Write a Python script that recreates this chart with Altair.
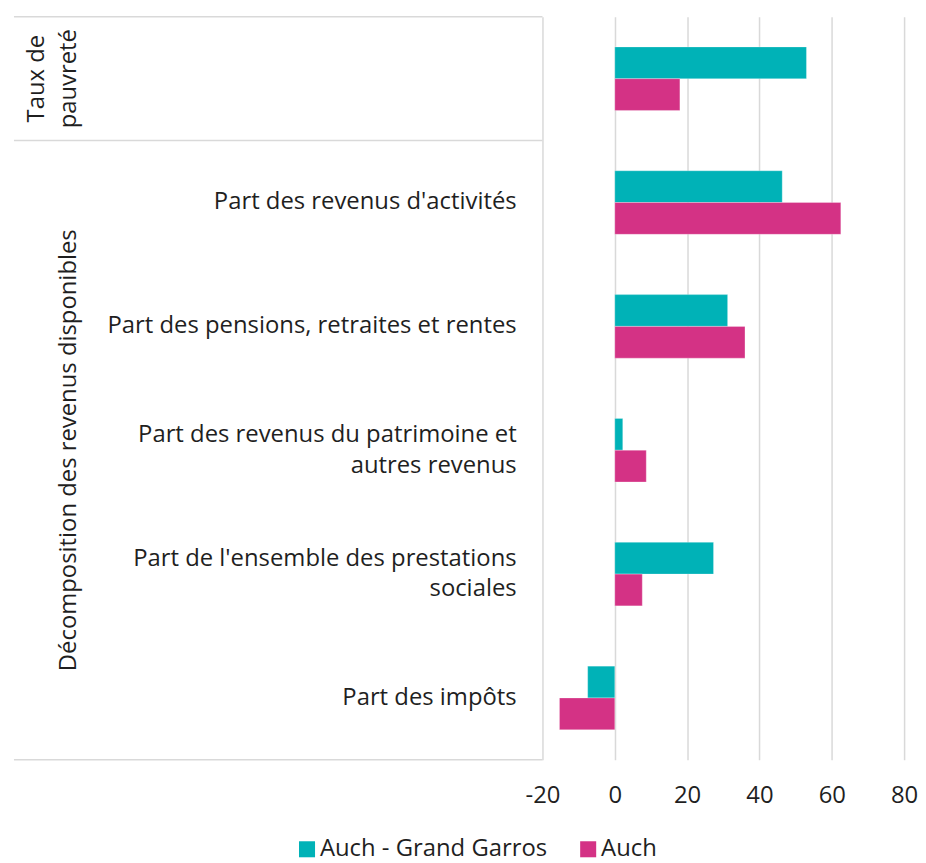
import altair as alt
import pandas as pd

# ---- data ----
categories = [
    "Taux de pauvreté",
    "Part des revenus d'activités",
    "Part des pensions, retraites et rentes",
    "Part des revenus du patrimoine et autres revenus",
    "Part de l'ensemble des prestations sociales",
    "Part des impôts",
]
row_labels = [
    [],
    ["Part des revenus d'activités"],
    ["Part des pensions, retraites et rentes"],
    ["Part des revenus du patrimoine et", "autres revenus"],
    ["Part de l'ensemble des prestations", "sociales"],
    ["Part des impôts"],
]
groups = [["Taux de", "pauvreté"], ["Décomposition des revenus disponibles"]]
group_sizes = [1, 5]
series = ["Auch - Grand Garros", "Auch"]
values_grand_garros = [53.0, 46.3, 31.2, 2.2, 27.3, -7.5]
values_auch = [18.0, 62.5, 36.0, 8.7, 7.6, -15.3]
colors = ["#00B2B7", "#D43285"]
x_ticks = [-20, 0, 20, 40, 60, 80]

FONT = "Open Sans"
TXT = "#1f1f1f"
GRID = "#d9d9d9"
H = 748
FS = 24
LH_INNER = 31
LH_GROUP = 32

# ---- tables ----
bars = pd.DataFrame(
    [{"category": c, "series": series[0], "value": v} for c, v in zip(categories, values_grand_garros)]
    + [{"category": c, "series": series[1], "value": v} for c, v in zip(categories, values_auch)]
)

n = len(categories)
inner_rows = [{"label": lab, "mid": i + 0.5} for i, lab in enumerate(row_labels) if lab]
inner_vals = alt.InlineData(values=inner_rows)

starts, s = [], 0
for g in group_sizes:
    starts.append(s)
    s += g
grp_vals = alt.InlineData(values=[
    {"name": nm, "mid": st + g / 2} for nm, st, g in zip(groups, starts, group_sizes)
])
bounds = pd.DataFrame({"b": starts + [n]})

yq = alt.Scale(domain=[0, n], reverse=True, nice=False, zero=False)


def inner_layer(k):
    return alt.Chart(inner_vals).transform_filter(
        f"length(datum.label) == {k}"
    ).mark_text(
        align="right", baseline="middle", font=FONT, fontSize=FS, color=TXT,
        lineHeight=LH_INNER, dy=-(k - 1) * LH_INNER / 2,
    ).encode(
        x=alt.value(506),
        y=alt.Y("mid:Q", scale=yq, axis=None),
        text="label:N",
    )


def group_layer(k):
    return alt.Chart(grp_vals).transform_filter(
        f"length(datum.name) == {k}"
    ).mark_text(
        align="center", baseline="bottom", angle=270, font=FONT, fontSize=FS,
        color=TXT, lineHeight=LH_GROUP, dy=-(k - 1) * LH_GROUP,
    ).encode(
        x=alt.value(67),
        y=alt.Y("mid:Q", scale=yq, axis=None),
        text="name:N",
    )


sep = alt.Chart(bounds).mark_rule(color=GRID, strokeWidth=1.5).encode(
    y=alt.Y("b:Q", scale=yq, axis=None),
    x=alt.value(0),
    x2=alt.value(532),
)

left = alt.layer(
    sep, inner_layer(1), inner_layer(2), group_layer(1), group_layer(2)
).properties(width=532, height=H)

bar_chart = alt.Chart(bars).mark_bar(stroke="white", strokeOpacity=0.35, strokeWidth=0.8).encode(
    y=alt.Y(
        "category:N", sort=categories,
        scale=alt.Scale(paddingInner=0.487, paddingOuter=0.2435),
        axis=None,
    ),
    yOffset=alt.YOffset("series:N", sort=series),
    x=alt.X(
        "value:Q", scale=alt.Scale(domain=[-20, 80], nice=False),
        axis=alt.Axis(values=x_ticks, grid=True, gridColor=GRID, gridWidth=1.5,
                      domain=False, ticks=False, labelFontSize=FS, labelFont=FONT,
                      labelColor=TXT, labelPadding=24, title=None, labelFlush=False,
                      labelExpr="'' + datum.value"),
    ),
    color=alt.Color(
        "series:N", sort=series,
        scale=alt.Scale(domain=series, range=colors),
        legend=alt.Legend(title=None, orient="none", legendX=283, legendY=826,
                          direction="horizontal",
                          symbolType="square", symbolSize=260, symbolStrokeWidth=0,
                          labelFontSize=FS, labelFont=FONT, labelColor=TXT,
                          labelLimit=0, columnPadding=29, labelOffset=1),
    ),
).properties(width=364, height=H)

chart = alt.hconcat(left, bar_chart, spacing=0, bounds="flush").properties(
    padding={"left": 5, "top": 5, "right": 0, "bottom": 0}
).configure(
    font=FONT
).configure_view(stroke=None, strokeWidth=0)

chart.save("out.html", embed_options={"renderer": "svg", "actions": False})
